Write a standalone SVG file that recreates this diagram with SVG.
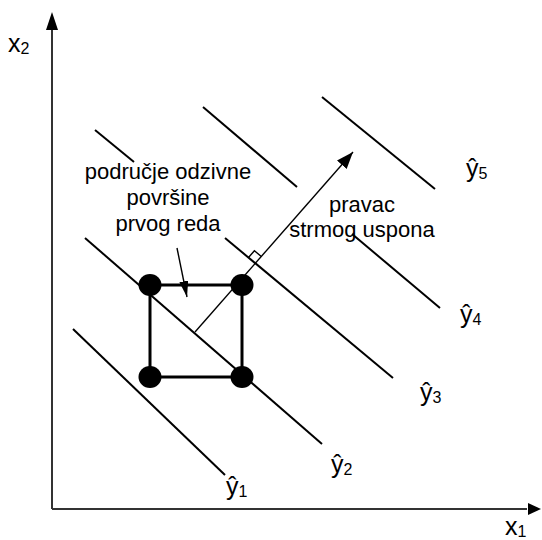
<svg xmlns="http://www.w3.org/2000/svg" width="542" height="540" viewBox="0 0 542 540">
<style>
.ln{stroke:#000;stroke-width:2;fill:none}
.ax{stroke:#333;stroke-width:2;fill:none}
.thin{stroke:#000;stroke-width:1.4;fill:none}
.sq{stroke:#000;stroke-width:3;fill:none}
.t{font-family:"Liberation Sans",Arial,sans-serif;font-size:22px;fill:#000}
.b{font-size:25px}
.s{font-size:16px}
</style>
<defs>
<marker id="ah" markerUnits="userSpaceOnUse" markerWidth="20" markerHeight="14" refX="17" refY="6.5" orient="auto"><path d="M0,0 L17,6.5 L0,13 z" fill="#000"/></marker>
<marker id="ahs" markerUnits="userSpaceOnUse" markerWidth="18" markerHeight="10" refX="16" refY="4.5" orient="auto"><path d="M0,0 L16,4.5 L0,9 z" fill="#000"/></marker>
</defs>
<g id="connectors">
<line class="ax" x1="52" y1="509" x2="52" y2="28"/>
<polygon points="52,12 46,30 58,30" fill="#000"/>
<line class="ax" x1="52" y1="509" x2="527" y2="509"/>
<polygon points="541,509 528,503 528,515" fill="#000"/>
<line id="iso1" class="ln" x1="73" y1="329" x2="225" y2="475"/>
<line id="iso2" class="ln" x1="85" y1="238" x2="322" y2="444"/>
<line id="iso3a" class="ln" x1="95" y1="130" x2="134" y2="162"/>
<line id="iso3b" class="ln" x1="225" y1="238" x2="393" y2="378"/>
<line id="iso4a" class="ln" x1="203" y1="107" x2="297" y2="187"/>
<line id="iso4b" class="ln" x1="352" y1="234" x2="440" y2="308"/>
<line id="iso5" class="ln" x1="322" y1="97" x2="435" y2="189"/>
<line id="ascent" class="thin" x1="195" y1="332" x2="353" y2="152" marker-end="url(#ah)"/>
<polyline id="rightangle" class="thin" points="261.3,256.5 254.4,250.7 248.5,257.5"/>
<line id="pointer" class="thin" x1="177" y1="248" x2="187" y2="297" marker-end="url(#ahs)"/>
</g>
<g id="design-square">
<rect class="sq" x="150" y="285" width="92" height="92"/>
<ellipse cx="150" cy="285" rx="11.5" ry="11"/>
<ellipse cx="242" cy="285" rx="11.5" ry="11"/>
<ellipse cx="150" cy="377" rx="11.5" ry="11"/>
<ellipse cx="242" cy="377" rx="11.5" ry="11"/>
</g>
<g id="label-region">
<text class="t" text-anchor="middle"><tspan x="168" y="179">područje odzivne</tspan><tspan x="168" y="205">površine</tspan><tspan x="168" y="231">prvog reda</tspan></text>
</g>
<g id="label-ascent">
<text class="t" text-anchor="middle"><tspan x="362" y="212">pravac</tspan><tspan x="362" y="237">strmog uspona</tspan></text>
</g>
<g id="axis-labels">
<text class="t b" x="8" y="52">x<tspan class="s" dy="2">2</tspan></text>
<text class="t b" x="505" y="535">x<tspan class="s" dy="2">1</tspan></text>
</g>
<g id="iso-labels">
<text class="t b" x="226" y="495">ŷ<tspan class="s" dy="2">1</tspan></text>
<text class="t b" x="331" y="473">ŷ<tspan class="s" dy="2">2</tspan></text>
<text class="t b" x="420" y="401">ŷ<tspan class="s" dy="2">3</tspan></text>
<text class="t b" x="460" y="323">ŷ<tspan class="s" dy="2">4</tspan></text>
<text class="t b" x="466" y="177">ŷ<tspan class="s" dy="2">5</tspan></text>
</g>
</svg>
